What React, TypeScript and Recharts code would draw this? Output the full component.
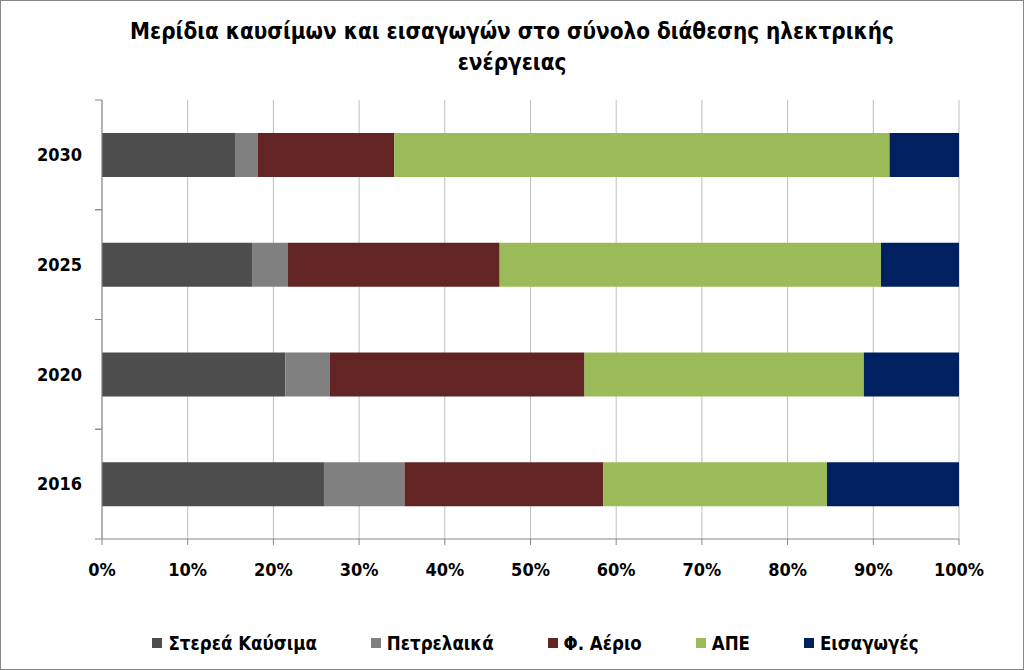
import { BarChart, Bar, XAxis, YAxis, CartesianGrid, Legend } from "recharts";

// #region Data (percent of total electricity supply)
const years = ["2016", "2020", "2025", "2030"];
const solidFuels = [25.9, 21.4, 17.5, 15.6];
const oilProducts = [9.4, 5.2, 4.2, 2.6];
const naturalGas = [23.2, 29.7, 24.7, 15.9];
const renewables = [26.1, 32.6, 44.5, 57.8];
const imports = [15.4, 11.1, 9.1, 8.1];
const xTicks = [0, 0.1, 0.2, 0.3, 0.4, 0.5, 0.6, 0.7, 0.8, 0.9, 1];
// #endregion

const series = [
  { key: "solid", name: "Στερεά Καύσιμα", color: "#4d4d4d", values: solidFuels },
  { key: "oil", name: "Πετρελαικά", color: "#808080", values: oilProducts },
  { key: "gas", name: "Φ. Αέριο", color: "#632523", values: naturalGas },
  { key: "res", name: "ΑΠΕ", color: "#9bbb59", values: renewables },
  { key: "imp", name: "Εισαγωγές", color: "#002060", values: imports },
];

const data = years.map((year, i) => {
  const row: Record<string, string | number> = { year };
  series.forEach((s) => (row[s.key] = s.values[i]));
  return row;
});

const FONT = '"DejaVu Sans Condensed", "DejaVu Sans", sans-serif';
const AXIS_COLOR = "#868686";

// category labels + Excel-style tick marks between the categories
const YearTick = (props: any) => {
  const { x, y, payload } = props;
  const half = payload.offset || 0;
  return (
    <g>
      <line x1={x + 1} x2={x + 8} y1={y - half} y2={y - half} stroke={AXIS_COLOR} />
      <line x1={x + 1} x2={x + 8} y1={y + half} y2={y + half} stroke={AXIS_COLOR} />
      <text x={x - 12} y={y} dy="0.35em" textAnchor="end" fontWeight="bold" fontSize={18} fill="#000">
        {payload.value}
      </text>
    </g>
  );
};

const LegendContent = () => (
  <div
    style={{
      display: "flex",
      justifyContent: "center",
      gap: 54,
      height: 30,
      alignItems: "center",
      paddingLeft: 70,
    }}
  >
    {series.map((s) => (
      <div key={s.key} style={{ display: "flex", alignItems: "center", fontSize: 18.5, fontWeight: "bold" }}>
        <span style={{ width: 10, height: 10, background: s.color, marginRight: 6, display: "inline-block" }} />
        {s.name}
      </div>
    ))}
  </div>
);

export default function App() {
  return (
    <div
      style={{
        position: "absolute",
        left: 0,
        top: 0,
        width: 1024,
        height: 670,
        border: `1px solid ${AXIS_COLOR}`,
        boxSizing: "border-box",
        background: "#fff",
        fontFamily: FONT,
      }}
    >
      <div
        style={{
          position: "absolute",
          left: 0,
          right: 0,
          top: 15,
          textAlign: "center",
          fontWeight: "bold",
          fontSize: 22.3,
          lineHeight: "31px",
          color: "#000",
        }}
      >
        Μερίδια καυσίμων και εισαγωγών στο σύνολο διάθεσης ηλεκτρικής
        <br />
        ενέργειας
      </div>
      <BarChart
        width={1022}
        height={668}
        data={data}
        layout="vertical"
        stackOffset="expand"
        barCategoryGap="30%"
        margin={{ top: 99, right: 64, left: 41, bottom: 60 }}
      >
        <CartesianGrid horizontal={false} stroke="#bfbfbf" strokeWidth={1} />
        <XAxis
          type="number"
          domain={[0, 1]}
          ticks={xTicks}
          tickFormatter={(v: number) => `${Math.round(v * 100)}%`}
          height={40}
          tickSize={6}
          tickMargin={18}
          stroke={AXIS_COLOR}
          tick={{ fill: "#000", fontSize: 18, fontWeight: "bold" }}
        />
        <YAxis
          type="category"
          dataKey="year"
          reversed
          width={60}
          tickLine={false}
          stroke={AXIS_COLOR}
          tick={<YearTick />}
        />
        <Legend verticalAlign="bottom" wrapperStyle={{ bottom: 11 }} content={<LegendContent />} />
        {series.map((s) => (
          <Bar key={s.key} dataKey={s.key} name={s.name} stackId="a" fill={s.color} isAnimationActive={false} />
        ))}
      </BarChart>
    </div>
  );
}
